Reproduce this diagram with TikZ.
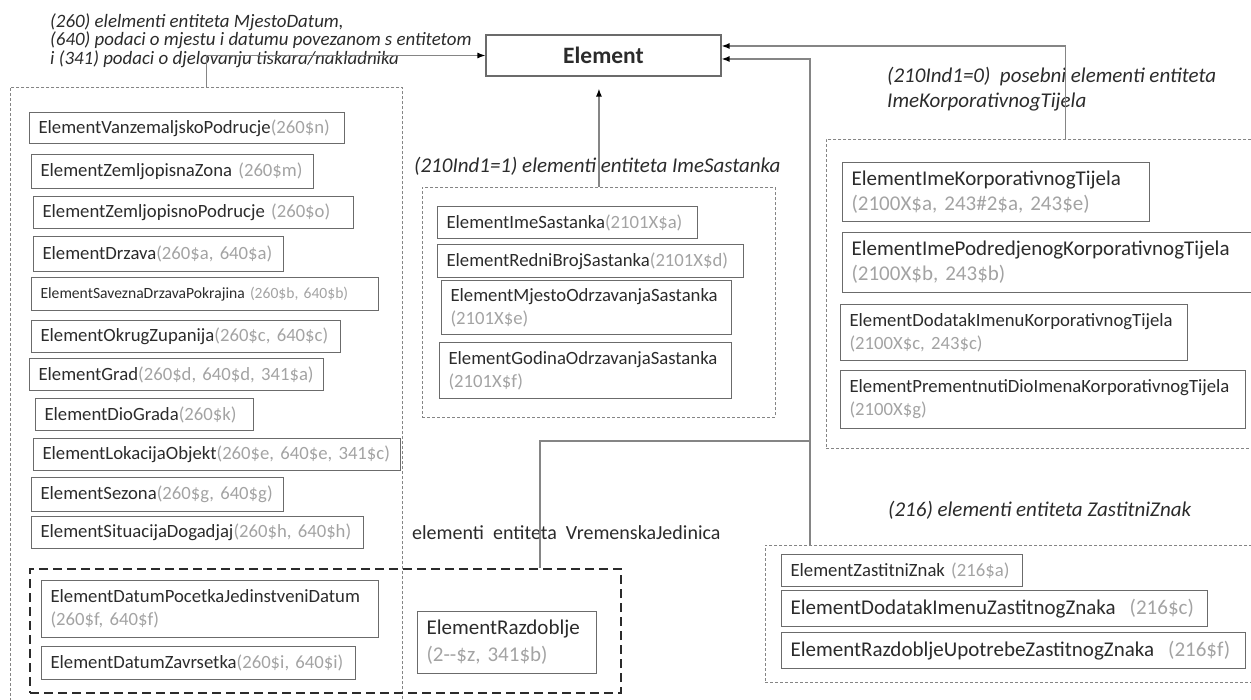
\documentclass[tikz,border=0pt]{standalone}
\usepackage{fontspec}
\setmainfont{Carlito}
\usetikzlibrary{arrows.meta}
\definecolor{kodgray}{HTML}{A3A3A3}
\definecolor{tekst}{HTML}{2B2B2B}
\definecolor{rub}{HTML}{6B6B6B}
\definecolor{linija}{HTML}{858585}
\newcommand{\kod}[1]{\textcolor{kodgray}{#1}}

\begin{document}
\begin{tikzpicture}[x=1pt, y=-1pt,
    elbox/.style={draw=rub, line width=1.1pt, anchor=north west, inner xsep=9pt, inner ysep=3pt,
        align=left, text=tekst, font=\fontsize{18.7}{23}\selectfont},
    big/.style={font=\fontsize{21}{25}\selectfont},
    grp/.style={draw=linija, line width=0.9pt, dash pattern=on 3pt off 2pt, anchor=north west, inner sep=0pt},
    lbl/.style={text=tekst, inner sep=0pt, align=left, font=\fontsize{21}{25}\selectfont\itshape},
    conn/.style={draw=linija, line width=1.4pt, -{Latex[length=8pt,width=6pt,color=black]}}]
    \useasboundingbox (0,0) rectangle (1251,700);

    \node[draw=rub, line width=1.1pt, minimum width=235pt, minimum height=41pt, text=tekst,
        font=\fontsize{23.5}{28}\selectfont\bfseries] (elem) at (603.5,55.5) {Element};
    \coordinate (inA) at ([yshift=9.5pt]elem.east);
    \coordinate (inB) at ([yshift=-3.5pt]elem.east);

    \node[grp, minimum width=392pt, minimum height=640pt] (mjesto) at (10,87) {};
    \node[grp, minimum width=353pt, minimum height=230pt] (sast) at (422,187) {};
    \node[grp, minimum width=478pt, minimum height=309pt] (korp) at (826,139) {};
    \node[grp, minimum width=540pt, minimum height=137pt] (zast) at (765,545) {};
    \node[grp, draw=tekst, line width=2pt, dash pattern=on 9pt off 5pt, minimum width=591pt, minimum height=124pt] (vrem) at (29,568) {};

    \node[lbl, anchor=north west, font=\fontsize{18.9}{18.5}\selectfont\itshape] (mjestoLbl) at (50,13)
        {(260) elelmenti entiteta MjestoDatum,\\(640) podaci o mjestu i datumu povezanom s entitetom\\i (341) podaci o djelovanju tiskara/nakladnika};
    \node[lbl, anchor=west] (sastLbl) at (414,166) {(210Ind1=1) elementi entiteta ImeSastanka};
    \node[lbl, anchor=north west] (korpLbl) at (887,67) {(210Ind1=0)\ \ posebni elementi entiteta\\ImeKorporativnogTijela};
    \node[lbl, anchor=west] (zastLbl) at (888,510) {(216) elementi entiteta ZastitniZnak};
    \node[lbl, anchor=west, font=\fontsize{20}{24}\selectfont] (vremLbl) at (412,533) {elementi\ \ entiteta\ \ VremenskaJedinica};

    \node[elbox, text width=297pt, minimum height=31pt] (vanz) at (29,112) {ElementVanzemaljskoPodrucje\kod{(260\$n)}};
    \node[elbox, text width=264pt, minimum height=34pt] (zona) at (31,154) {ElementZemljopisnaZona \kod{(260\$m)}};
    \node[elbox, text width=302pt, minimum height=32pt] (podr) at (33,196) {ElementZemljopisnoPodrucje \kod{(260\$o)}};
    \node[elbox, text width=232pt, minimum height=35pt] (drz) at (33,236) {ElementDrzava\kod{(260\$a, 640\$a)}};
    \node[elbox, text width=329pt, minimum height=33pt, font=\fontsize{15.6}{19}\selectfont] (sav) at (31,277) {ElementSaveznaDrzavaPokrajina \kod{(260\$b, 640\$b)}};
    \node[elbox, text width=291pt, minimum height=32pt] (okr) at (31,320) {ElementOkrugZupanija\kod{(260\$c, 640\$c)}};
    \node[elbox, text width=276pt, minimum height=32pt] (grad) at (29,358) {ElementGrad\kod{(260\$d, 640\$d, 341\$a)}};
    \node[elbox, text width=200pt, minimum height=32pt] (dio) at (35,398) {ElementDioGrada\kod{(260\$k)}};
    \node[elbox, text width=349pt, minimum height=32pt] (lok) at (33,438) {ElementLokacijaObjekt\kod{(260\$e, 640\$e, 341\$c)}};
    \node[elbox, text width=234pt, minimum height=34pt] (sez) at (31,477) {ElementSezona\kod{(260\$g, 640\$g)}};
    \node[elbox, text width=314pt, minimum height=32pt] (sit) at (31,516) {ElementSituacijaDogadjaj\kod{(260\$h, 640\$h)}};

    \node[elbox, text width=319pt, minimum height=57pt] (poc) at (41,580) {ElementDatumPocetkaJedinstveniDatum\\\kod{(260\$f, 640\$f)}};
    \node[elbox, text width=296pt, minimum height=33pt] (zav) at (41,646) {ElementDatumZavrsetka\kod{(260\$i, 640\$i)}};
    \node[elbox, big, text width=161pt, minimum height=62pt, font=\fontsize{21}{27}\selectfont] (razd) at (417,611) {ElementRazdoblje\\\kod{(2-{}-\$z, 341\$b)}};

    \node[elbox, text width=242pt, minimum height=32pt] (ime) at (437,206) {ElementImeSastanka\kod{(2101X\$a)}};
    \node[elbox, text width=288pt, minimum height=33pt] (red) at (437,244) {ElementRedniBrojSastanka\kod{(2101X\$d)}};
    \node[elbox, text width=272pt, minimum height=54pt] (mje) at (441,280) {ElementMjestoOdrzavanjaSastanka\\\kod{(2101X\$e)}};
    \node[elbox, text width=274pt, minimum height=56pt] (god) at (439,342) {ElementGodinaOdrzavanjaSastanka\\\kod{(2101X\$f)}};

    \node[elbox, big, text width=289pt, minimum height=59pt] (ikt) at (842,162) {ElementImeKorporativnogTijela\\\kod{(2100X\$a, 243\#2\$a, 243\$e)}};
    \node[elbox, big, text width=432pt, minimum height=60pt] (ipkt) at (842,232) {ElementImePodredjenogKorporativnogTijela\\\kod{(2100X\$b, 243\$b)}};
    \node[elbox, text width=329pt, minimum height=56pt] (dikt) at (840,304) {ElementDodatakImenuKorporativnogTijela\\\kod{(2100X\$c, 243\$c)}};
    \node[elbox, text width=387pt, minimum height=58pt] (pdikt) at (840,370) {ElementPrementnutiDioImenaKorporativnogTijela\\\kod{(2100X\$g)}};

    \node[elbox, text width=223pt, minimum height=32pt] (zz) at (781,554) {ElementZastitniZnak \kod{(216\$a)}};
    \node[elbox, big, text width=408pt, minimum height=36pt] (dizz) at (781,590) {ElementDodatakImenuZastitnogZnaka\ \ \kod{(216\$c)}};
    \node[elbox, big, text width=446pt, minimum height=36pt] (ruzz) at (781,632) {ElementRazdobljeUpotrebeZastitnogZnaka\ \ \kod{(216\$f)}};

    \coordinate (vjoin) at (540,441);
    \coordinate (zjoin) at (810,441);
    \draw[conn] (mjesto.north) |- (elem.west);
    \draw[conn, shorten >=12pt] (sast.north) -- (sast.north |- elem.south);
    \draw[conn] (korp.north) |- (inA);
    \draw[conn] (zast.north -| zjoin) |- (inB);
    \draw[draw=linija, line width=1.4pt] (vrem.north -| vjoin) -- (vjoin) -- (zjoin);
\end{tikzpicture}
\end{document}
